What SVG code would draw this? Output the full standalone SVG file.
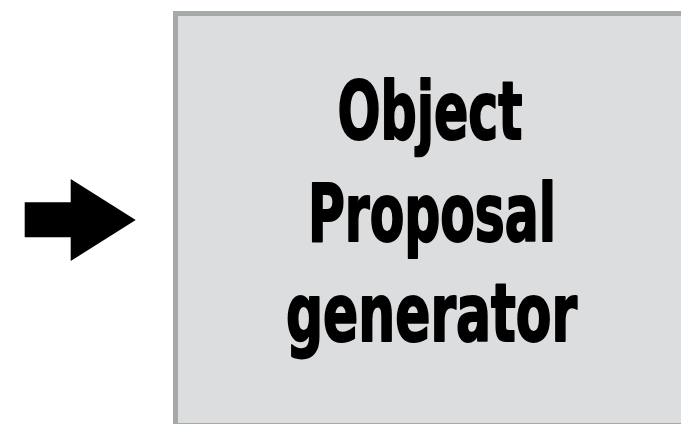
<svg xmlns="http://www.w3.org/2000/svg" width="681" height="424" viewBox="0 0 681 424">
  <style>
    .box { fill: #dcdddf; stroke: #a5a9a8; stroke-width: 5; }
    .label { font-family: "Liberation Sans Narrow", "DejaVu Sans Condensed", "Liberation Sans", sans-serif; font-stretch: condensed; font-weight: bold; font-size: 80px; fill: #000000; stroke: #000000; stroke-width: 2; stroke-linejoin: round; text-anchor: middle; }
    .arrow { fill: #000000; }
  </style>
  <rect width="681" height="424" fill="#ffffff"/>
  <g id="connectors">
    <polygon class="arrow" points="24.7,202.3 70.7,202.3 70.7,179 135.7,220 70.7,261 70.7,237.3 24.7,237.3"/>
  </g>
  <g id="object-proposal-generator">
    <rect class="box" x="175.5" y="13.5" width="520" height="412"/>
    <text class="label" x="430" y="139" textLength="185" lengthAdjust="spacingAndGlyphs">Object</text>
    <text class="label" x="432" y="240.5" textLength="248" lengthAdjust="spacingAndGlyphs">Proposal</text>
    <text class="label" x="431.5" y="340.5" textLength="291" lengthAdjust="spacingAndGlyphs">generator</text>
  </g>
</svg>
